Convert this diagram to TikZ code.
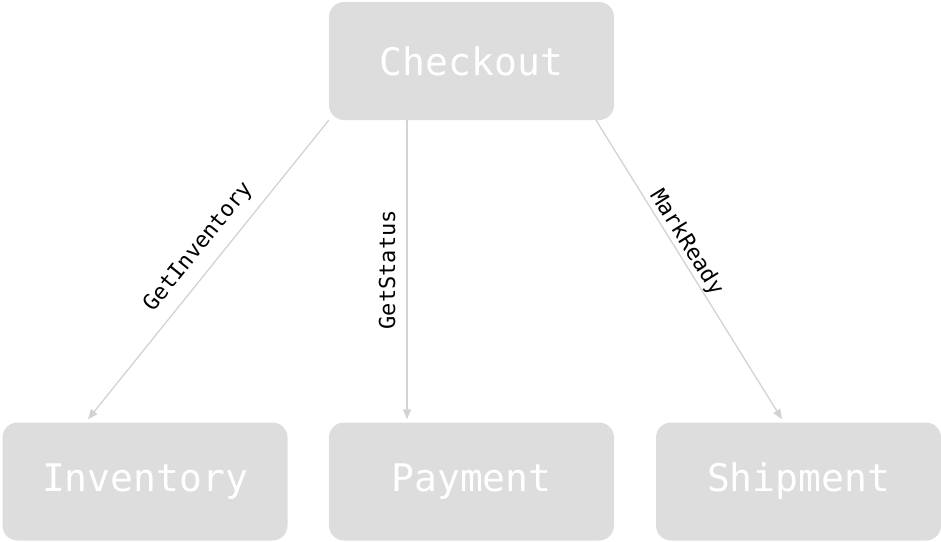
\documentclass[tikz,border=0pt]{standalone}
\usepackage{fontspec}
\usepackage{tikz}
\usetikzlibrary{arrows.meta, positioning}

\newfontfamily\svcfont{DejaVu Sans Mono}
\definecolor{boxgray}{HTML}{DDDDDD}
\definecolor{linegray}{HTML}{D3D3D3}

\tikzset{
  service/.style={rectangle, rounded corners=15pt, fill=boxgray, text=white,
    minimum width=285pt, minimum height=118pt, inner sep=0pt,
    font=\svcfont\fontsize{38}{40}\selectfont},
  call/.style={draw=linegray, line width=1.3pt, -{Triangle[length=10pt, width=8pt]}},
  rpc/.style={font=\svcfont\fontsize{22}{24}\selectfont, text=black, inner sep=0pt}
}

\begin{document}
\begin{tikzpicture}[x=1pt, y=-1pt]

    \useasboundingbox (0,0) rectangle (941,541);

    \node [service] (checkout)  at (471.5,61)    {Checkout};
    \node [service] (inventory) at (145,481.5)   {Inventory};
    \node [service] (payment)   at (471.5,481.5) {Payment};
    \node [service] (shipment)  at (798.5,481.5) {Shipment};

    \draw [call] (checkout.south west) -- ([xshift=-57pt, yshift=3pt]inventory.north)
      node [rpc, sloped, pos=0.47, yshift=22pt] {GetInventory};

    \draw [call] ([xshift=-64.5pt]checkout.south) -- ([xshift=-64.5pt, yshift=3pt]payment.north)
      node [rpc, pos=0.5, xshift=-20pt, rotate=90] {GetStatus};

    \draw [call] ([xshift=124.5pt]checkout.south) -- ([xshift=-16.5pt, yshift=3pt]shipment.north)
      node [rpc, sloped, pos=0.43, yshift=12pt] {MarkReady};

\end{tikzpicture}
\end{document}
